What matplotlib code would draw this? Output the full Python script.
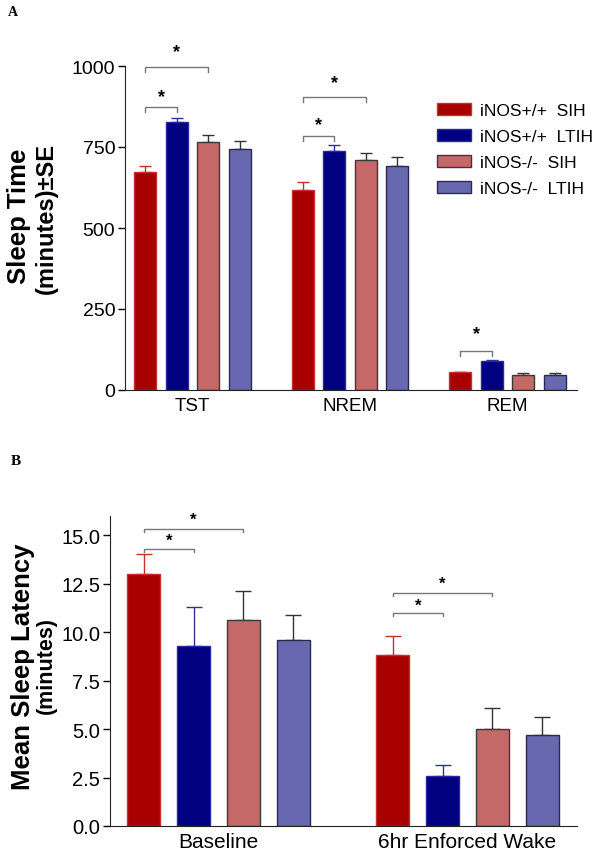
import matplotlib
matplotlib.use("Agg")
import matplotlib.pyplot as plt
import numpy as np
from matplotlib.patches import Patch

plt.rcParams['font.family'] = ['Liberation Sans', 'DejaVu Sans']

series_labels = ["iNOS+/+  SIH", "iNOS+/+  LTIH", "iNOS-/-  SIH", "iNOS-/-  LTIH"]
face_colors = ["#A80000", "#000080", "#C46868", "#6868B0"]
edge_colors = ["#C83030", "#2828A0", "#3A3A3A", "#2A2A50"]
err_colors = ["#C83030", "#3030A0", "#333333", "#333333"]

# Panel A
a_categories = ["TST", "NREM", "REM"]
a_means = [[674, 618, 55], [826, 737, 90], [764, 709, 47], [743, 691, 47]]
a_err = [[18, 25, 2], [14, 19, 3], [23, 21, 4], [27, 27, 6]]
a_ticks = [0, 250, 500, 750, 1000]
# brackets: (group, bar_i, bar_j, y, star_y)
a_brackets = [(0, 0, 1, 873, 907), (0, 0, 2, 997, 1043),
              (1, 0, 1, 784, 818), (1, 0, 2, 904, 950),
              (2, 0, 1, 120, 173)]

# Panel B
b_categories = ["Baseline", "6hr Enforced Wake"]
b_means = [[13.0, 8.8], [9.3, 2.6], [10.6, 5.0], [9.6, 4.7]]
b_err = [[1.0, 1.0], [2.0, 0.57], [1.5, 1.08], [1.3, 0.91]]
b_ticks = [0.0, 2.5, 5.0, 7.5, 10.0, 12.5, 15.0]
b_brackets = [(0, 0, 1, 14.28, 14.75), (0, 0, 2, 15.3, 15.8),
              (1, 0, 1, 10.96, 11.4), (1, 0, 2, 12.0, 12.5)]

W, H = 603, 853
fig = plt.figure(figsize=(W / 100, H / 100), dpi=100)

def draw_panel(ax, cats, means, errs, width, step, capsize, xfs, yfs, xpad):
    x = np.arange(len(cats))
    for i in range(4):
        pos = x + (i - 1.5) * step
        ax.bar(pos, means[i], width=width, color=face_colors[i],
               edgecolor=edge_colors[i], linewidth=1.0, zorder=2)
        ax.errorbar(pos, means[i], yerr=[np.zeros(len(cats)), errs[i]],
                    fmt='none', ecolor=err_colors[i], elinewidth=1.0,
                    capsize=capsize, capthick=1.0, zorder=1)
    ax.spines['top'].set_visible(False)
    ax.spines['right'].set_visible(False)
    ax.spines['left'].set_color('#222222')
    ax.spines['bottom'].set_color('#222222')
    ax.set_xticks(x)
    ax.set_xticklabels(cats, fontsize=xfs)
    ax.tick_params(axis='x', length=0, pad=xpad)
    ax.tick_params(axis='y', labelsize=yfs, length=5, width=1, direction='out', pad=2)
    return x

def draw_brackets(ax, brackets, step, tick_h, star_size):
    for g, i, j, y, sy in brackets:
        x1 = g + (i - 1.5) * step
        x2 = g + (j - 1.5) * step
        ax.plot([x1, x1, x2, x2], [y - tick_h, y, y, y - tick_h],
                color='#777777', lw=1.0, clip_on=False, zorder=3)
        ax.text((x1 + x2) / 2, sy, '*', ha='center', va='center',
                fontsize=star_size, fontweight='bold', clip_on=False)

# Panel A axes
axA = fig.add_axes([125/W, 1-391/H, (577-125)/W, (391-67)/H])
draw_panel(axA, a_categories, a_means, a_err, 0.14, 0.2, 4.3, 13.5, 14, 5)
axA.set_ylim(0, 1000)
axA.set_xlim(-0.43, 2.44)
axA.set_yticks(a_ticks)
axA.set_yticklabels([str(t) for t in a_ticks])
draw_brackets(axA, a_brackets, 0.2, 14, 13)

fig.text(19/W, 1-216/H, "Sleep Time", rotation=90, ha='center', va='center',
         fontsize=18.5, fontweight='bold')
fig.text(46/W, 1-219/H, "(minutes)±SE", rotation=90, ha='center', va='center',
         fontsize=17, fontweight='bold')

handles = [Patch(facecolor=face_colors[i], edgecolor=edge_colors[i], linewidth=1.0)
           for i in range(4)]
fig.legend(handles, series_labels, loc='upper left',
           bbox_to_anchor=(437/W, 1-104/H), frameon=False, fontsize=12.5,
           handlelength=1.95, handleheight=0.7, labelspacing=0.62,
           handletextpad=0.55, borderpad=0, borderaxespad=0)

# Panel B axes
axB = fig.add_axes([110/W, 1-827/H, (577-110)/W, (827-516.7)/H])
draw_panel(axB, b_categories, b_means, b_err, 0.133, 0.2, 6, 15, 14.5, 4)
axB.set_ylim(0, 16)
axB.set_xlim(-0.436, 1.44)
axB.set_yticks(b_ticks)
axB.set_yticklabels([f"{t:.1f}" for t in b_ticks])
draw_brackets(axB, b_brackets, 0.2, 0.15, 12)

fig.text(23/W, 1-667/H, "Mean Sleep Latency", rotation=90, ha='center', va='center',
         fontsize=18.5, fontweight='bold')
fig.text(46/W, 1-666/H, "(minutes)", rotation=90, ha='center', va='center',
         fontsize=15.5, fontweight='bold')

fig.text(8/W, 1-12/H, "A", fontsize=10, fontweight='bold',
         family=['Liberation Serif', 'DejaVu Serif'], va='center')
fig.text(11/W, 1-462/H, "B", fontsize=11, fontweight='bold',
         family=['Liberation Serif', 'DejaVu Serif'], va='center')

fig.savefig("out.png", dpi=100)
